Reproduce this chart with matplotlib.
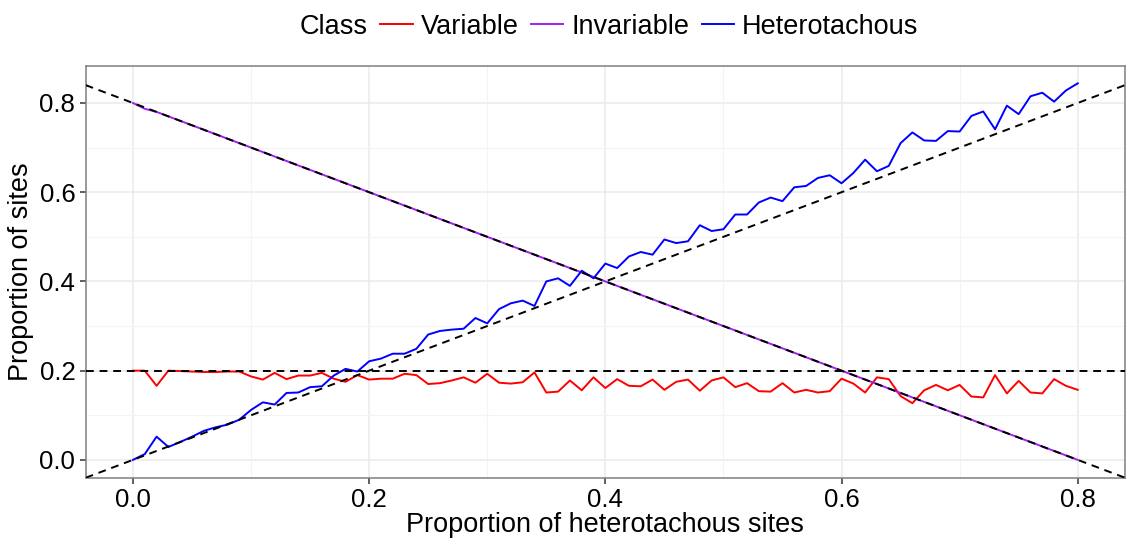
import numpy as np
import matplotlib.pyplot as plt
from matplotlib.lines import Line2D

plt.rcParams['font.family'] = ['Liberation Sans', 'DejaVu Sans']

# Proportion of heterotachous sites simulated (0.00 .. 0.80)
het_prop = np.round(np.arange(81) * 0.01, 2)

# Estimated class proportions
variable = [0.200, 0.200, 0.166, 0.200, 0.199, 0.198, 0.197, 0.197, 0.198, 0.198,
            0.187, 0.180, 0.195, 0.181, 0.189, 0.189, 0.195, 0.182, 0.175, 0.190,
            0.180, 0.182, 0.182, 0.193, 0.190, 0.170, 0.172, 0.178, 0.185, 0.173,
            0.193, 0.173, 0.171, 0.174, 0.196, 0.151, 0.153, 0.178, 0.156, 0.185,
            0.161, 0.181, 0.166, 0.165, 0.180, 0.157, 0.175, 0.180, 0.155, 0.178,
            0.185, 0.163, 0.172, 0.154, 0.153, 0.172, 0.151, 0.157, 0.151, 0.154,
            0.182, 0.171, 0.151, 0.185, 0.181, 0.143, 0.127, 0.156, 0.168, 0.156,
            0.168, 0.142, 0.140, 0.190, 0.149, 0.177, 0.151, 0.149, 0.181, 0.166,
            0.157]

invariable = [0.800, 0.787, 0.780, 0.770, 0.760, 0.750, 0.740, 0.730, 0.720, 0.710,
              0.700, 0.690, 0.680, 0.670, 0.660, 0.650, 0.640, 0.630, 0.620, 0.610,
              0.600, 0.590, 0.580, 0.570, 0.560, 0.550, 0.540, 0.530, 0.520, 0.510,
              0.500, 0.490, 0.480, 0.470, 0.460, 0.450, 0.440, 0.430, 0.420, 0.410,
              0.400, 0.390, 0.380, 0.370, 0.360, 0.350, 0.340, 0.330, 0.320, 0.310,
              0.300, 0.290, 0.280, 0.270, 0.260, 0.250, 0.240, 0.230, 0.220, 0.210,
              0.200, 0.190, 0.180, 0.170, 0.160, 0.150, 0.140, 0.130, 0.120, 0.110,
              0.100, 0.090, 0.080, 0.070, 0.060, 0.050, 0.040, 0.030, 0.020, 0.010,
              0.000]

heterotachous = [0.000, 0.013, 0.052, 0.029, 0.040, 0.052, 0.065, 0.073, 0.079, 0.090,
                 0.112, 0.129, 0.124, 0.150, 0.151, 0.163, 0.165, 0.189, 0.204, 0.198,
                 0.221, 0.227, 0.238, 0.238, 0.249, 0.281, 0.289, 0.292, 0.294, 0.318,
                 0.306, 0.338, 0.351, 0.357, 0.345, 0.400, 0.407, 0.390, 0.424, 0.407,
                 0.440, 0.430, 0.456, 0.466, 0.460, 0.494, 0.486, 0.490, 0.526, 0.513,
                 0.517, 0.550, 0.550, 0.577, 0.588, 0.580, 0.611, 0.614, 0.632, 0.638,
                 0.620, 0.643, 0.673, 0.647, 0.659, 0.710, 0.734, 0.716, 0.715, 0.737,
                 0.736, 0.771, 0.781, 0.741, 0.794, 0.775, 0.815, 0.823, 0.803, 0.828,
                 0.844]

classes = ["Variable", "Invariable", "Heterotachous"]
colors = ["#FF0000", "#A020F0", "#0000FF"]
series = [variable, invariable, heterotachous]

fig = plt.figure(figsize=(11.28, 5.42), dpi=100)
ax = fig.add_axes([0.076, 0.1186, 0.9213, 0.7602])

for vals, col in zip(series, colors):
    ax.plot(het_prop, vals, color=col, lw=1.4, zorder=3)

# expected proportions
dash = dict(color="black", lw=1.4, ls=(0, (4, 3)), zorder=4)
ax.axhline(0.2, **dash)
ax.axline((0, 0), slope=1, **dash)
ax.axline((0, 0.8), slope=-1, **dash)

ax.set_xlim(-0.04, 0.84)
ax.set_ylim(-0.04, 0.8836)
ax.set_xticks(np.arange(0, 0.81, 0.2))
ax.set_yticks(np.arange(0, 0.81, 0.2))
ax.set_xticks(np.arange(0.1, 0.8, 0.2), minor=True)
ax.set_yticks(np.arange(0.1, 0.8, 0.2), minor=True)
ax.xaxis.set_major_formatter(lambda v, p: f"{v:.1f}")
ax.yaxis.set_major_formatter(lambda v, p: f"{v:.1f}")

ax.grid(which="major", color="#EBEBEB", lw=1.1, zorder=0)
ax.grid(which="minor", color="#F4F4F4", lw=0.8, zorder=0)
ax.set_axisbelow(True)
ax.tick_params(which="major", length=4.5, width=1.1, color="#333333",
               labelsize=18.5, labelcolor="black", pad=3)
ax.tick_params(which="minor", length=0)
for s in ax.spines.values():
    s.set_color("#7F7F7F")
    s.set_linewidth(1.1)

ax.set_xlabel("Proportion of heterotachous sites", fontsize=19.5, labelpad=0)
ax.set_ylabel("Proportion of sites", fontsize=19.5, labelpad=4)

handles = [Line2D([], [], color=c, lw=1.4) for c in colors]
fig.text(300 / 1128, 0.951, "Class", fontsize=19.5, ha="left", va="center")
fig.legend(handles, classes, ncol=3, loc="center left",
           bbox_to_anchor=(380 / 1128, 0.951), frameon=False, fontsize=19.5,
           handlelength=1.2, handletextpad=0.3, columnspacing=0.45,
           borderpad=0, borderaxespad=0)

fig.savefig("out.png", dpi=100)
